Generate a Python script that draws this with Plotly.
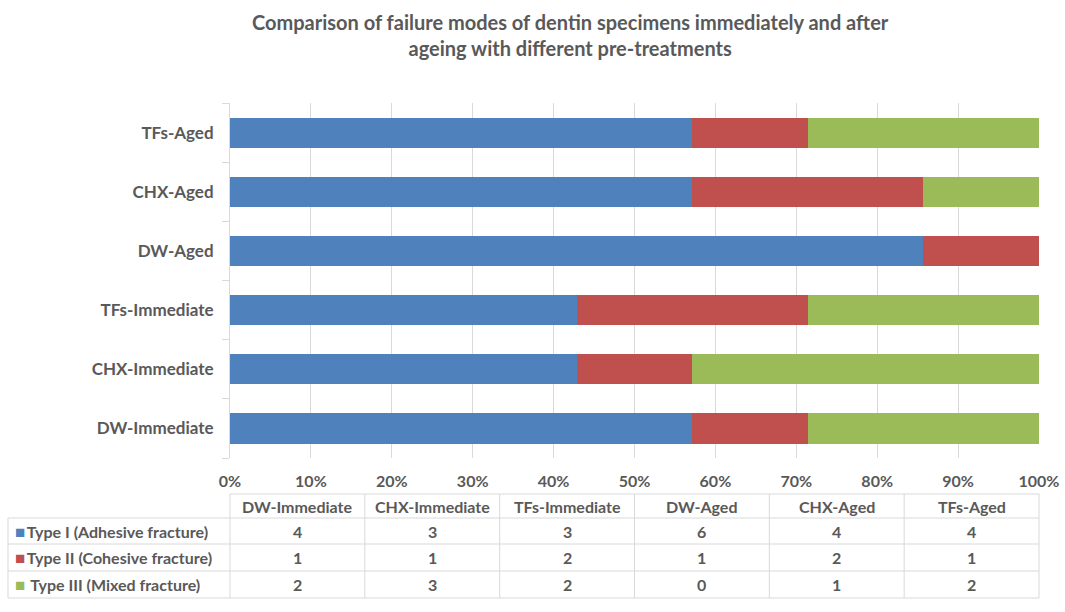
import plotly.graph_objects as go

categories = ['DW-Immediate', 'CHX-Immediate', 'TFs-Immediate', 'DW-Aged', 'CHX-Aged', 'TFs-Aged']
series_names = ['Type I (Adhesive fracture)', 'Type II (Cohesive fracture)', ' Type III (Mixed fracture)']
type1 = [4, 3, 3, 6, 4, 4]
type2 = [1, 1, 2, 1, 2, 1]
type3 = [2, 3, 2, 0, 1, 2]
colors = ['#4F81BD', '#C0504D', '#9BBB59']
x_ticks = [0, 10, 20, 30, 40, 50, 60, 70, 80, 90, 100]
title = 'Comparison of failure modes of dentin specimens immediately and after<br>ageing with different pre-treatments'

FONT = 'Lato'
GREY = '#595959'
LINE = '#D9D9D9'

W, H = 1065, 612
L, R, T, B = 230, 1039, 103, 458
pw, ph = R - L, B - T


def px(x):
    return (x - L) / pw


def py(y):
    return (B - y) / ph


fig = go.Figure()
for name, vals, col in zip(series_names, [type1, type2, type3], colors):
    fig.add_trace(go.Bar(
        y=categories, x=vals, name=name.strip(), orientation='h',
        marker=dict(color=col, line=dict(width=0)),
        showlegend=False
    ))

shapes = []
annotations = []

# title as annotation (multi-line titles sit too high)
annotations.append(dict(xref='paper', yref='paper', x=px(570), y=py(8),
                        xanchor='center', yanchor='top', showarrow=False,
                        text='<b>' + title + '</b>',
                        font=dict(family=FONT, size=20, color=GREY)))

# data table under the axis
cols = len(categories)
col_w = pw / cols
row_tops = [494, 518, 544, 571, 598]


def hline(x0, x1, y):
    shapes.append(dict(type='line', xref='paper', yref='paper',
                       x0=px(x0), x1=px(x1), y0=py(y), y1=py(y),
                       line=dict(color=LINE, width=1)))


def vline(x, y0, y1):
    shapes.append(dict(type='line', xref='paper', yref='paper',
                       x0=px(x), x1=px(x), y0=py(y0), y1=py(y1),
                       line=dict(color=LINE, width=1)))


hline(L, R, row_tops[0])
for yy in row_tops[1:]:
    hline(8, R, yy)
vline(8, row_tops[1], row_tops[-1])
for i in range(cols + 1):
    vline(L + i * col_w, row_tops[0], row_tops[-1])

tfont = dict(family=FONT, size=16, color=GREY)
for i, c in enumerate(categories):
    annotations.append(dict(xref='paper', yref='paper', xanchor='center', yanchor='middle',
                            x=px(L + (i + 0.5) * col_w),
                            y=py((row_tops[0] + row_tops[1]) / 2),
                            text='<b>' + c + '</b>', showarrow=False, font=tfont))
for r, (name, vals, col) in enumerate(zip(series_names, [type1, type2, type3], colors)):
    yc = py((row_tops[r + 1] + row_tops[r + 2]) / 2)
    label = name.replace(' ', '&nbsp;', 1) if name.startswith(' ') else name
    annotations.append(dict(xref='paper', yref='paper', x=px(13), y=yc,
                            xanchor='left', yanchor='middle',
                            text='<span style="color:%s;font-size:17px">■</span><span style="font-size:6px">&nbsp;</span><b>%s</b>' % (col, label),
                            showarrow=False, font=tfont))
    for i, v in enumerate(vals):
        annotations.append(dict(xref='paper', yref='paper', xanchor='center', yanchor='middle',
                                x=px(L + (i + 0.5) * col_w), y=yc,
                                text='<b>%d</b>' % v, showarrow=False, font=tfont))

fig.update_layout(
    width=W, height=H,
    barmode='stack', barnorm='percent', bargap=0.49,
    paper_bgcolor='white', plot_bgcolor='white',
    margin=dict(l=L, r=W - R, t=T, b=H - B, autoexpand=False),
    xaxis=dict(range=[0, 100], tickvals=x_ticks,
               ticktext=['<b>%d%%</b>' % t for t in x_ticks],
               showgrid=True, gridcolor=LINE, gridwidth=1, automargin=False,
               showline=False, zeroline=False, ticks='', ticklabelstandoff=12,
               tickfont=dict(family=FONT, size=16, color=GREY)),
    yaxis=dict(tickvals=categories,
               ticktext=['<b>' + c + '</b>' for c in categories],
               showline=True, linecolor=LINE, ticks='outside', tickson='boundaries',
               ticklen=7, tickcolor=LINE, showgrid=False, ticklabelstandoff=12,
               automargin=False,
               tickfont=dict(family=FONT, size=17, color=GREY)),
    shapes=shapes, annotations=annotations,
    font=dict(family=FONT, color=GREY),
)

fig.write_html('out.html', config={'displayModeBar': False},
               post_script="document.body.style.margin='0px';")
